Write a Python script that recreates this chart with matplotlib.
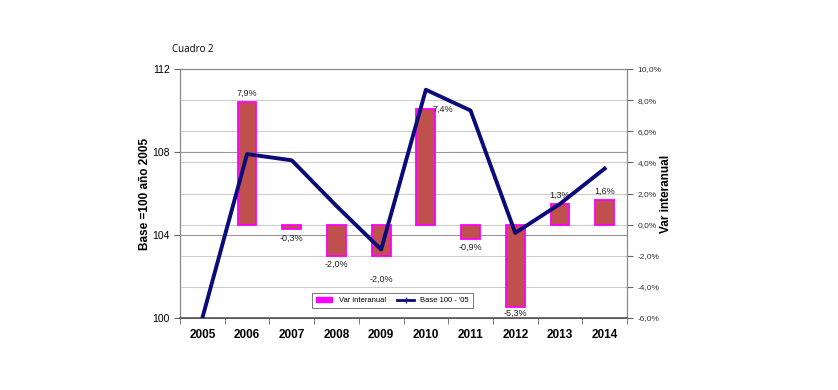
import matplotlib.pyplot as plt
from matplotlib.patches import Patch
from matplotlib.lines import Line2D

years = ['2005', '2006', '2007', '2008', '2009', '2010', '2011', '2012', '2013', '2014']
base_100 = [100.0, 107.9, 107.6, 105.4, 103.3, 111.0, 110.0, 104.1, 105.5, 107.2]
var_interanual = [None, 7.9, -0.3, -2.0, -2.0, 7.4, -0.9, -5.3, 1.3, 1.6]

plt.rcParams['font.family'] = ['Liberation Sans', 'DejaVu Sans']

fig = plt.figure(figsize=(8.38, 3.9), dpi=100)
ax = fig.add_axes([180 / 838, 1 - 318 / 390, 447 / 838, 249 / 390])
ax2 = ax.twinx()

x = list(range(len(years)))

# bars go on the right (percent) axis
bx = [i for i, v in zip(x, var_interanual) if v is not None]
bv = [v for v in var_interanual if v is not None]
ax2.bar(bx, bv, width=0.42, color='#C0504D', edgecolor='#FF00FF', linewidth=1.3, zorder=3)

# label offsets in points (dx, dy)
for i, v in zip(bx, bv):
    dx, dy, va = 0, 3, 'bottom'
    if v < 0:
        dy, va = -3, 'top'
    if years[i] == '2009':
        dy = -14
    if years[i] == '2010':
        dx, dy, va = 12, 0, 'center'
    if years[i] == '2012':
        dy = -1
    lbl = ('%.1f%%' % v).replace('.', ',')
    ax2.annotate(lbl, (i, v), xytext=(dx, dy), textcoords='offset points',
                 ha='center', va=va, fontsize=6.5, color='#222222', zorder=5)

ax.plot(x, base_100, color='#0A0A78', linewidth=2.8, zorder=4)

ax.set_zorder(ax2.get_zorder() + 1)
ax.patch.set_visible(False)

ax.set_xlim(-0.5, len(years) - 0.5)
ax.set_ylim(100, 112)
ax.set_yticks([100, 104, 108, 112])
ax.set_xticks(x)
ax.set_xticklabels(years, fontsize=8.5, fontweight='bold')
ax.set_xticks([i - 0.5 for i in range(len(years) + 1)], minor=True)
ax.tick_params(axis='x', which='major', length=0, pad=8)
ax.tick_params(axis='x', which='minor', length=4, color='#666666')
ax.tick_params(axis='y', labelsize=7.5, length=4, color='#666666')
ax.set_ylabel('Base =100 año 2005', fontsize=8.5, fontweight='bold', labelpad=1)

ax2.set_ylim(-6, 10)
ax2.set_yticks(range(-6, 11, 2))
ax2.set_yticklabels([('%.1f%%' % t).replace('.', ',') for t in range(-6, 11, 2)],
                    fontsize=6, color='#333333')
ax2.tick_params(axis='y', length=4, color='#666666')
ax2.set_ylabel('Var interanual', fontsize=8.5, fontweight='bold', labelpad=-1)
ax2.grid(axis='y', color='#cccccc', linewidth=0.8)
ax2.set_axisbelow(True)

# left axis gridlines (104, 108) drawn on ax2 so they stay under the bars
for yv in [104, 108]:
    yy = -6 + (yv - 100) / 12 * 16
    ax2.axhline(yy, color='#999999', linewidth=0.8, zorder=0)

for a in (ax, ax2):
    for s in a.spines.values():
        s.set_color('#888888')
        s.set_linewidth(0.8)
ax.spines['bottom'].set_color('#555555')
ax.spines['bottom'].set_linewidth(1.2)

handles = [Patch(facecolor='#FF00FF', edgecolor='#FF00FF', label='Var interanual'),
           Line2D([0], [0], color='#0A0A78', linewidth=2, marker='|', markersize=4,
                  label="Base 100 - '05")]
leg = ax.legend(handles=handles, loc='lower left', bbox_to_anchor=(0.295, 0.04),
                ncol=2, fontsize=5.5, frameon=True, fancybox=False,
                borderaxespad=0, handlelength=2.2, handleheight=0.6,
                columnspacing=1.5, borderpad=0.5)
leg.get_frame().set_edgecolor('#555555')
leg.get_frame().set_linewidth(0.7)

fig.text(172 / 838, 1 - 49 / 390, 'Cuadro 2', fontsize=7, family=['Open Sans', 'DejaVu Sans'],
         ha='left', va='center')

fig.savefig('out.png', dpi=100)
